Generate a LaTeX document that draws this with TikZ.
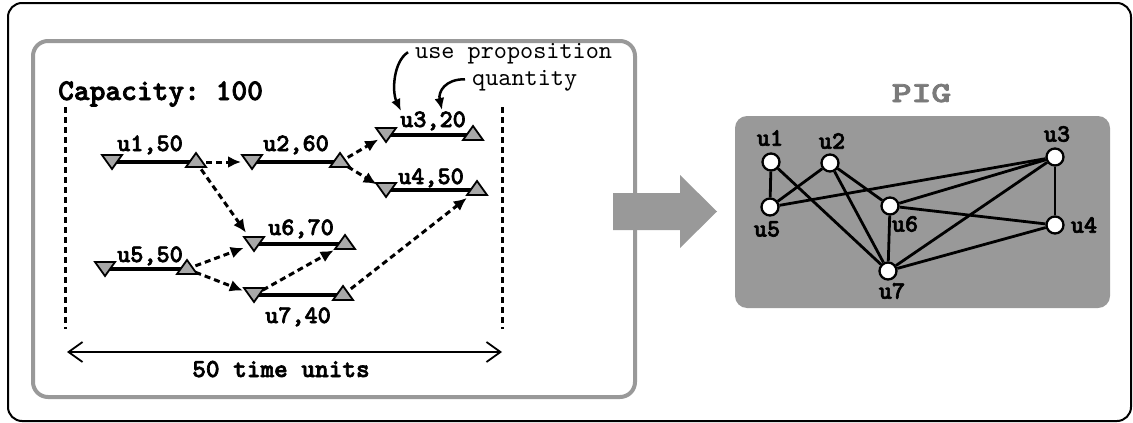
\documentclass[tikz,border=0pt]{standalone}
\usepackage{fontspec}
\setmonofont{lmmono10-regular.otf}[BoldFont=lmmonolt10-bold.otf, BoldFeatures={FakeBold=2.5}]
\usetikzlibrary{arrows.meta,calc}
\definecolor{framegray}{HTML}{999999}
\definecolor{trigray}{HTML}{A8A8A8}
\definecolor{piggray}{HTML}{7A7A7A}
\newcommand\downtri[1]{\draw[tri] ($(#1)+(-10,-7)$) -- ($(#1)+(10,-7)$) -- ($(#1)+(0,7)$) -- cycle;}
\newcommand\uptri[1]{\draw[tri] ($(#1)+(-10,5)$) -- ($(#1)+(10,5)$) -- ($(#1)+(0,-9)$) -- cycle;}
\tikzset{
  bar/.style={line width=4pt},
  tri/.style={fill=trigray, draw=black, line width=1.8pt, line join=miter},
  dep/.style={dash pattern=on 6pt off 4pt, line width=3pt, -{Latex[length=13pt,width=12pt]}},
  ann/.style={line width=2.5pt, -{Latex[length=12pt,width=10pt]}},
  edge/.style={line width=2.8pt},
  pnode/.style={circle, fill=white, draw=black, line width=2.3pt, minimum size=17pt, inner sep=0pt},
  lbl/.style={font=\ttfamily\bfseries\fontsize{25}{27}\selectfont, inner sep=0pt},
  rlbl/.style={font=\ttfamily\fontsize{25}{27}\selectfont, inner sep=0pt},
}
\begin{document}
\begin{tikzpicture}[x=1pt,y=-1pt]
\useasboundingbox (0,0) rectangle (1133,423);
% frames
\draw[line width=2pt, rounded corners=14pt] (8,3) rectangle (1131,421);
\draw[framegray, line width=4pt, rounded corners=15pt] (33,41) rectangle (635,397);
% big arrow
\fill[framegray] (613,193) -- (680,193) -- (680,175) -- (717,211.5) -- (680,248) -- (680,230) -- (613,230) -- cycle;

% left panel
\node[lbl, font=\ttfamily\bfseries\fontsize{30}{32}\selectfont, anchor=base west] (cap) at (58,100) {Capacity: 100};
\coordinate (lt) at (65,107); \coordinate (lb) at (65,329);
\coordinate (rt) at (502,107); \coordinate (rb) at (502,329);
\draw[dash pattern=on 6pt off 4pt, line width=3pt] (lt) -- (lb);
\draw[dash pattern=on 6pt off 4pt, line width=3pt] (rt) -- (rb);
\coordinate (al) at (67,352); \coordinate (ar) at (502,352);
\draw[line width=1.8pt, {Straight Barb[length=14pt,width=20pt]}-{Straight Barb[length=14pt,width=20pt]}] (al) -- (ar);
\node[lbl, font=\ttfamily\bfseries\fontsize{26}{28}\selectfont, anchor=base] (tu) at (281,377) {50 time units};

% task ends
\coordinate (s1) at (112,162); \coordinate (e1) at (196,162);
\coordinate (s2) at (252,162); \coordinate (e2) at (340,162);
\coordinate (s3) at (386,135); \coordinate (e3) at (473,135);
\coordinate (s4) at (386,190); \coordinate (e4) at (477,190);
\coordinate (s5) at (105,269); \coordinate (e5) at (187,269);
\coordinate (s6) at (254,244); \coordinate (e6) at (345,244);
\coordinate (s7) at (254,295); \coordinate (e7) at (343,295);

\foreach \i in {1,...,7} { \draw[bar] (s\i) -- (e\i); }

% dependencies
\draw[dep, shorten <=10pt, shorten >=11pt] (e1) -- (s2);
\draw[dep, shorten <=9pt, shorten >=14pt] (e1) -- (s6);
\draw[dep, shorten <=9pt, shorten >=9pt] (e2) -- (s3);
\draw[dep, shorten <=9pt, shorten >=11pt] (e2) -- (s4);
\draw[dep, shorten <=9pt, shorten >=11pt] (e5) -- (s6);
\draw[dep, shorten <=9pt, shorten >=12pt] (e5) -- (s7);
\draw[dep, shorten <=10pt, shorten >=13pt] (s7) -- (e6);
\draw[dep, shorten <=10pt, shorten >=13pt] (e7) -- (e4);

\foreach \i in {1,...,7} { \downtri{s\i} \uptri{e\i} }

% labels
\node[lbl, anchor=base west] (l1) at (117,151) {u1,50};
\node[lbl, anchor=base west] (l2) at (263,151) {u2,60};
\node[lbl, anchor=base west] (l3) at (400,127) {u3,20};
\node[lbl, anchor=base west] (l4) at (398,184) {u4,50};
\node[lbl, anchor=base west] (l5) at (117,262) {u5,50};
\node[lbl, anchor=base west] (l6) at (268,235) {u6,70};
\node[lbl, anchor=base west] (l7) at (265,323) {u7,40};

% annotations
\node[rlbl, anchor=base west] (up) at (415,58) {use proposition};
\node[rlbl, anchor=base west] (qt) at (472,85) {quantity};
\coordinate (tipA) at (401,111);
\coordinate (tipB) at (442,110);
\draw[ann] ($(up.west)+(-7,-1)$) .. controls (393,62) and (392,92) .. (tipA);
\draw[ann] ($(qt.west)+(-7,-1)$) .. controls (445,79) and (438,92) .. (tipB);

% PIG
\node[inner sep=0pt, anchor=base, text=piggray, font=\ttfamily\bfseries\fontsize{29}{31}\selectfont, xscale=1.3] (pig) at (921.5,102) {PIG};
\fill[framegray, rounded corners=12pt] (735,116) rectangle (1110,308);
\node[pnode] (p1) at (771,162) {};
\node[pnode] (p2) at (830,163) {};
\node[pnode] (p3) at (1055,157) {};
\node[pnode] (p4) at (1055,225) {};
\node[pnode] (p5) at (770,207) {};
\node[pnode] (p6) at (890,206) {};
\node[pnode] (p7) at (888,271) {};
\foreach \a/\b in {1/5,1/7,2/5,2/6,2/7,5/3,6/3,6/4,6/7,7/3,7/4,3/4} { \draw[edge] (p\a) -- (p\b); }
\node[lbl] (n1) at (770,138) {u1};
\node[lbl] (n2) at (832,141) {u2};
\node[lbl] (n3) at (1057,134) {u3};
\node[lbl] (n4) at (1084,225) {u4};
\node[lbl] (n5) at (767,229) {u5};
\node[lbl] (n6) at (905,224) {u6};
\node[lbl] (n7) at (892,291) {u7};
\end{tikzpicture}
\end{document}
